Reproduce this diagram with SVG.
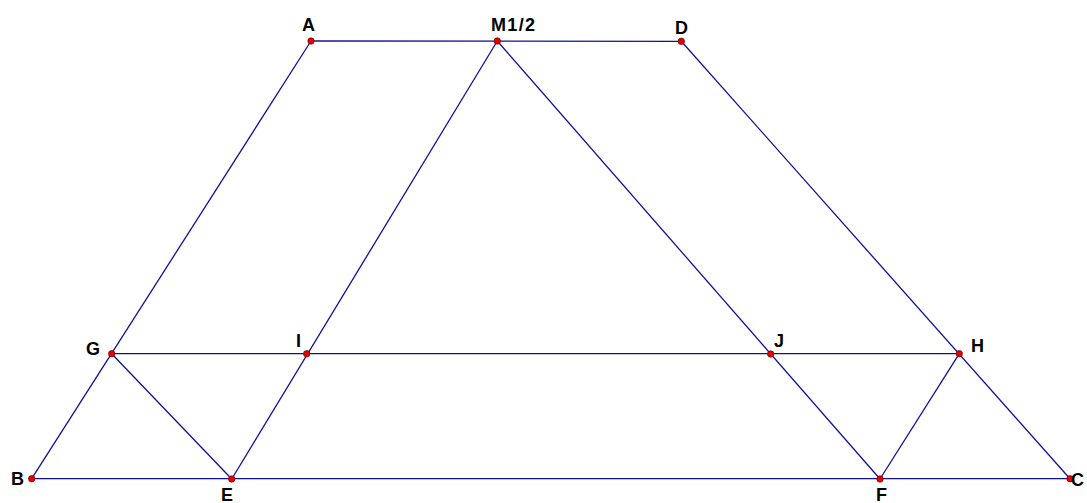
<svg xmlns="http://www.w3.org/2000/svg" width="1087" height="503" viewBox="0 0 1087 503">
<style>
.ln{stroke:#10109a;stroke-width:1.3;fill:none}
.pt{fill:#e80000;stroke:#700000;stroke-width:0.7}
.lb{font-family:"Liberation Sans",Arial,sans-serif;font-weight:bold;font-size:18px;fill:#000}
</style>
<rect width="1087" height="503" fill="#fff"/>
<g id="connectors">
<line class="ln" x1="311" y1="41" x2="681.3" y2="41.3"/>
<line class="ln" x1="311" y1="41" x2="31.7" y2="478.7"/>
<line class="ln" x1="681.3" y1="41.3" x2="1070" y2="478.7"/>
<line class="ln" x1="31.7" y1="478.7" x2="1070" y2="478.7"/>
<line class="ln" x1="111.7" y1="353.7" x2="959.3" y2="353.7"/>
<line class="ln" x1="497.3" y1="41" x2="231.7" y2="479"/>
<line class="ln" x1="497.3" y1="41" x2="880" y2="479"/>
<line class="ln" x1="111.7" y1="353.7" x2="231.7" y2="479"/>
<line class="ln" x1="959.3" y1="353.7" x2="880" y2="479"/>
</g>
<g id="A"><circle class="pt" cx="311" cy="41" r="3.2"/><text class="lb" x="302" y="31">A</text></g>
<g id="M"><circle class="pt" cx="497.3" cy="41" r="3.2"/><text class="lb" x="491" y="31" textLength="44" lengthAdjust="spacing">M1/2</text></g>
<g id="D"><circle class="pt" cx="681.3" cy="41.3" r="3.2"/><text class="lb" x="675" y="34">D</text></g>
<g id="G"><circle class="pt" cx="111.7" cy="353.7" r="3.2"/><text class="lb" x="86" y="355">G</text></g>
<g id="I"><circle class="pt" cx="306.7" cy="353.7" r="3.2"/><text class="lb" x="296" y="347">I</text></g>
<g id="J"><circle class="pt" cx="770.7" cy="354" r="3.2"/><text class="lb" x="774" y="347">J</text></g>
<g id="H"><circle class="pt" cx="959.3" cy="353.7" r="3.2"/><text class="lb" x="971" y="352">H</text></g>
<g id="B"><circle class="pt" cx="31.7" cy="478.7" r="3.2"/><text class="lb" x="11" y="485">B</text></g>
<g id="E"><circle class="pt" cx="231.7" cy="479" r="3.2"/><text class="lb" x="221" y="501">E</text></g>
<g id="F"><circle class="pt" cx="880" cy="479" r="3.2"/><text class="lb" x="876" y="501">F</text></g>
<g id="C"><circle class="pt" cx="1070" cy="478.7" r="3.2"/><text class="lb" x="1071" y="486">C</text></g>
</svg>
